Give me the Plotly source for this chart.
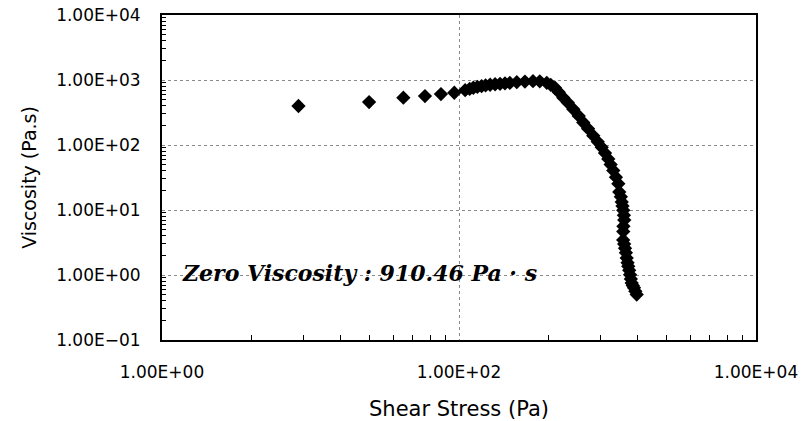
import plotly.graph_objects as go

# Shear stress (Pa) and viscosity (Pa.s)
shear_stress = [
    8.3, 24.8, 42.2, 59, 75.6, 93, 110,
    118, 125, 133, 142, 151, 162, 175, 189, 204, 220, 245, 278, 315, 350, 390,
    415, 443, 470, 504, 540, 589, 640, 687, 740, 802, 860, 914, 962, 1012, 1050, 1094, 1140, 1183,
    1200, 1230, 1247, 1262, 1277, 1290, 1297, 1280, 1277, 1275, 1295, 1312, 1330, 1347, 1365, 1380,
    1400, 1418, 1436, 1455, 1480, 1508, 1540, 1573,
]
viscosity = [
    398, 458, 535, 566, 607, 637, 698,
    730, 760, 782, 804, 825, 845, 860, 872, 885, 900, 925, 945, 960, 955, 906,
    840, 760, 650, 535, 450, 355, 280, 222, 178, 139, 112, 92, 75, 61, 50, 40.5, 32, 25.4,
    19, 16, 13.3, 11.5, 9.9, 8.3, 7.0, 5.6, 4.65, 3.46, 3.0, 2.58, 2.2, 1.82, 1.55, 1.36,
    1.18, 1.01, 0.87, 0.755, 0.69, 0.634, 0.56, 0.50,
]

x_tickvals = [1, 100, 10000]
x_ticktext = ["1.00E+00", "1.00E+02", "1.00E+04"]
x_minorvals = [4, 9, 16, 25, 36, 49, 64, 81, 400, 900, 1600, 2500, 3600, 4900, 6400, 8100]
y_tickvals = [0.1, 1, 10, 100, 1000, 10000]
y_ticktext = ["1.00E\u221201", "1.00E+00", "1.00E+01", "1.00E+02", "1.00E+03", "1.00E+04"]
y_minorvals = [m * d for d in [0.1, 1, 10, 100, 1000] for m in range(2, 10)]

annotation_text = "Zero Viscosity : 910.46 Pa \u00b7 s"

fig = go.Figure()
fig.add_trace(go.Scatter(
    x=shear_stress, y=viscosity, mode="markers",
    marker=dict(symbol="diamond", size=11, color="black", line=dict(width=0)),
    showlegend=False, hoverinfo="skip",
))

axis_common = dict(
    type="log", automargin=False,
    showline=True, linecolor="black", linewidth=2, mirror=True,
    showgrid=True, gridcolor="#8a8a8a", griddash="dot", gridwidth=1,
    ticks="", zeroline=False,
    tickfont=dict(family="DejaVu Sans", size=17, color="black"),
)

fig.update_xaxes(
    **axis_common, range=[0, 4],
    tickmode="array", tickvals=x_tickvals, ticktext=x_ticktext,
    ticklabelstandoff=16,
    minor=dict(tickmode="array", tickvals=x_minorvals, ticks="inside", ticklen=5,
               tickcolor="black", showgrid=False),
    title=dict(text="Shear Stress (Pa)", font=dict(family="DejaVu Sans", size=21, color="black"), standoff=20),
)
fig.update_yaxes(
    **axis_common, range=[-1, 4],
    tickmode="array", tickvals=y_tickvals, ticktext=y_ticktext,
    ticklabelstandoff=16,
    minor=dict(tickmode="array", tickvals=y_minorvals, ticks="inside", ticklen=4,
               tickcolor="black", showgrid=False),
    title=dict(text="Viscosity (Pa.s)", font=dict(family="DejaVu Sans", size=19, color="black"), standoff=14),
)

fig.add_annotation(
    xref="paper", yref="paper", x=0.03, y=0.206, xanchor="left", yanchor="middle",
    text=annotation_text, showarrow=False,
    font=dict(family="DejaVu Serif", size=22, color="black", weight="bold", style="italic"),
)

fig.update_layout(
    width=802, height=421,
    margin=dict(l=162, r=46, t=15, b=81),
    paper_bgcolor="white", plot_bgcolor="white",
)

fig.write_html(
    "out.html",
    config={"displayModeBar": False},
    post_script="document.body.style.margin='0';document.body.style.overflow='hidden';",
)
